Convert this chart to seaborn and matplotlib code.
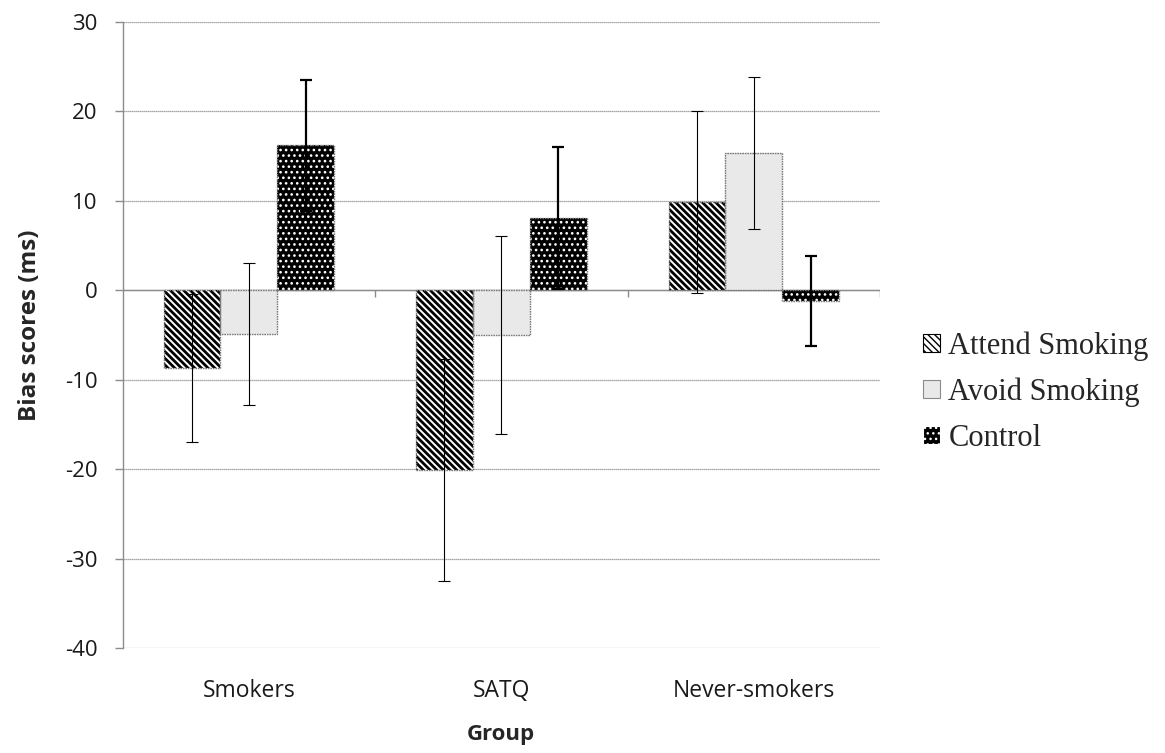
import matplotlib
matplotlib.use("Agg")
import matplotlib.pyplot as plt
from matplotlib.patches import Patch, Rectangle
import seaborn as sns
import pandas as pd

# Mean bias scores (ms) and error half-widths per group and condition
groups = ["Smokers", "SATQ", "Never-smokers"]
conditions = ["Attend Smoking", "Avoid Smoking", "Control"]
attend_mean = [-8.7, -20.1, 9.9]
avoid_mean = [-4.9, -5.0, 15.3]
control_mean = [16.2, 8.1, -1.2]
attend_err = [8.3, 12.4, 10.2]
avoid_err = [7.9, 11.1, 8.5]
control_err = [7.3, 7.9, 5.0]
y_ticks = [-40, -30, -20, -10, 0, 10, 20, 30]

means = {"Attend Smoking": attend_mean, "Avoid Smoking": avoid_mean, "Control": control_mean}
errs = {"Attend Smoking": attend_err, "Avoid Smoking": avoid_err, "Control": control_err}

rows = []
for c in conditions:
    for g, v in zip(groups, means[c]):
        rows.append({"Group": g, "Condition": c, "Bias": v})
df = pd.DataFrame(rows)

sns.set_theme(style="white")
plt.rcParams["font.family"] = ["Open Sans", "DejaVu Sans"]

styles = {
    "Attend Smoking": dict(face="white", hatch="\\\\\\\\\\", hcolor="black", hlw=2.0),
    "Avoid Smoking": dict(face="#e9e9e9", hatch="", hcolor="#e9e9e9", hlw=1.0),
    "Control": dict(face="black", hatch="...", hcolor="white", hlw=1.1),
}
err_lw = {"Attend Smoking": 0.8, "Avoid Smoking": 0.8, "Control": 1.6}

fig = plt.figure(figsize=(11.65, 7.53), dpi=100)
ax = fig.add_axes([0.1052, 0.1394, 0.6502, 0.8314])

sns.barplot(data=df, x="Group", y="Bias", hue="Condition", order=groups,
            hue_order=conditions, errorbar=None, width=0.675,
            palette=["white", "#e9e9e9", "black"], legend=False, ax=ax, zorder=3)

for cond, container in zip(conditions, ax.containers):
    st = styles[cond]
    xs = []
    for p in container:
        p.set_facecolor(st["face"])
        p.set_edgecolor(st["hcolor"])
        p.set_linewidth(0)
        p.set_hatch(st["hatch"])
        if hasattr(p, "set_hatch_linewidth"):
            p.set_hatch_linewidth(st["hlw"])
        ax.add_patch(Rectangle(p.get_xy(), p.get_width(), p.get_height(),
                               fill=False, edgecolor="#7a7a7a", linewidth=1.0,
                               linestyle=(0, (1.2, 0.6)), zorder=4))
        xs.append(p.get_x() + p.get_width() / 2)
    ax.errorbar(xs, means[cond], yerr=errs[cond], fmt="none", ecolor="black",
                elinewidth=err_lw[cond], capsize=4.4, capthick=err_lw[cond], zorder=5)

ax.set_ylim(-40, 30)
ax.set_xlim(-0.5, len(groups) - 0.5)
ax.set_yticks(y_ticks)
ax.set_yticklabels([str(t) for t in y_ticks])
ax.grid(axis="y", color="#8c8c8c", linewidth=0.9, linestyle=(0, (1, 0.6)), zorder=0)
ax.grid(axis="x", visible=False)

# horizontal category axis drawn at zero with small boundary ticks
ax.axhline(0, color="#8c8c8c", linewidth=1.0, zorder=2)
bounds = [i - 0.5 for i in range(len(groups) + 1)]
ax.vlines(bounds[1:], -0.75, 0, color="#8c8c8c", linewidth=1.0, zorder=2)

for s in ["top", "right", "bottom"]:
    ax.spines[s].set_visible(False)
ax.spines["left"].set_color("#8c8c8c")
ax.spines["left"].set_linewidth(1.0)

ax.tick_params(axis="y", length=5.8, width=1.0, color="#8c8c8c", left=True,
               labelsize=16, pad=12)
ax.tick_params(axis="x", length=0, labelsize=16.5, pad=22)
for lab in ax.get_xticklabels() + ax.get_yticklabels():
    lab.set_color("#1a1a1a")

ax.set_ylabel("Bias scores (ms)", fontsize=17.5, fontweight="bold")
ax.yaxis.set_label_coords(-0.107, 0.515)
ax.set_xlabel("Group", fontsize=16, fontweight="bold")
ax.xaxis.set_label_coords(0.5, -0.122)

handles = []
for cond in conditions:
    st = styles[cond]
    edge = "black" if cond == "Attend Smoking" else ("#8a8a8a" if cond == "Avoid Smoking" else "white")
    h = Patch(facecolor=st["face"], edgecolor=edge, hatch=st["hatch"],
              linewidth=0.8, label=cond)
    handles.append(h)
leg = ax.legend(handles=handles, loc="center left", bbox_to_anchor=(1.057, 0.409),
                frameon=False, handlelength=0.56, handleheight=0.56,
                handletextpad=0.26, labelspacing=0.55, borderpad=0, borderaxespad=0,
                prop={"family": "Liberation Serif", "size": 22})

fig.savefig("out.png", dpi=100)
